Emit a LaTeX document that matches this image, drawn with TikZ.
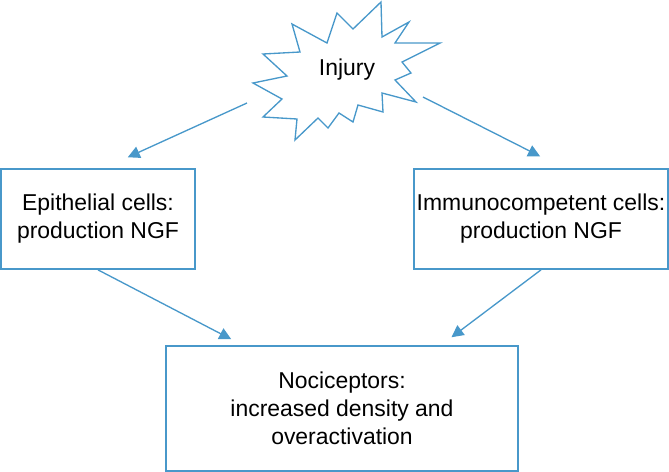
\documentclass[tikz,border=0pt]{standalone}
\usepackage{fontspec}
\setmainfont{Liberation Sans}
\usetikzlibrary{arrows.meta,calc}
\definecolor{lineblue}{RGB}{72,152,202}
\tikzset{
    cellbox/.style={draw=lineblue, line width=1.3pt, align=center, inner sep=0pt},
    arr/.style={draw=lineblue, line width=1pt, -{Triangle[length=9pt,width=9pt]}}
}
\begin{document}
\begin{tikzpicture}[x=0.75pt, y=-0.75pt, font=\fontsize{17.2}{21}\selectfont]
        \useasboundingbox (0, 0) rectangle (669, 472);

        % the injury burst
        \draw[lineblue, line width=1pt, line join=miter]
            (381, 2) -- (382, 37) -- (409, 22) -- (395, 43) -- (440, 43)
            -- (402, 62) -- (411, 73) -- (395, 80) -- (416, 102) -- (382, 93)
            -- (383, 112) -- (358, 105) -- (353, 122) -- (339, 113) -- (328, 128)
            -- (318, 118) -- (295, 140) -- (297, 119) -- (263, 117) -- (282, 99)
            -- (253, 83) -- (287, 76) -- (263, 54) -- (300, 52) -- (292, 24)
            -- (327, 43) -- (337, 13) -- (353, 29) -- cycle;
        \node (inj) at (347, 70) {Injury};
        \coordinate (inj-l) at (247, 103);
        \coordinate (inj-r) at (423, 97);

        \node[cellbox, minimum width=145.5pt, minimum height=75pt] (epi) at (98, 219)
            {Epithelial cells:\\production NGF};
        \node[cellbox, minimum width=190.5pt, minimum height=75pt] (imm) at (541, 219)
            {Immunocompetent cells:\\production NGF};
        \node[cellbox, minimum width=264pt, minimum height=93.75pt] (noci) at (342, 408.5)
            {Nociceptors:\\increased density and\\overactivation};

        \draw[arr, shorten >=19.7pt] (inj-l) -- ($(epi.north west)!0.53!(epi.north east)$);
        \draw[arr, shorten >=19.7pt] (inj-r) -- ($(imm.north west)!0.588!(imm.north east)$);
        \draw[arr, shorten >=9.6pt] (epi.south) -- ($(noci.north west)!0.219!(noci.north east)$);
        \draw[arr, shorten >=9.8pt] (imm.south) -- ($(noci.north west)!0.78!(noci.north east)$);
\end{tikzpicture}
\end{document}
